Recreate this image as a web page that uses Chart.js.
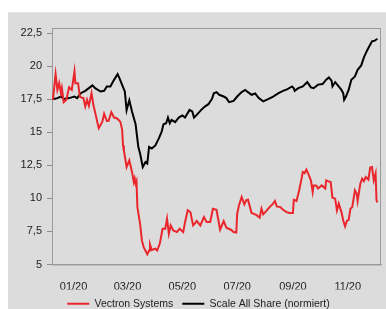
<!DOCTYPE html>
<html>
<head>
<meta charset="utf-8">
<script src="https://cdn.jsdelivr.net/npm/chart.js@4"></script>
<style>
  html, body { margin: 0; padding: 0; background: #fff; overflow: hidden; }
  #panel { position: absolute; left: 8px; top: 12px; right: 0; bottom: 0; background: #dcdcdc; border-top: 1px solid #e6e6e6; }
  #chart { position: absolute; left: 0; top: 0; }
</style>
</head>
<body>
<div id="panel"></div>
<canvas id="chart" width="386" height="309"></canvas>
<script>
// x values are days since 01.01.2020
var vectronDays = [-23,-20,-18,-16,-14,-13,-11,-8,-5,-2,1,2,5,7,10,11,13,15,17,20,22,25,28,32,34,37,39,42,45,48,52,54,55,56,59,62,65,67,68,69,70,71,74,76,78,82,84,85,87,91,93,96,99,102,104,106,108,111,115,118,122,124,127,130,133,135,137,141,145,148,152,155,159,163,167,170,175,178,181,182,184,187,190,192,194,198,202,204,207,209,211,215,218,222,224,226,230,233,237,240,244,245,248,251,254,255,257,259,261,264,266,267,270,272,276,280,281,283,286,288,291,293,295,298,300,302,304,306,308,310,313,315,316,319,321,323,325,328,330,332,334,336,337,338];
var vectronValues = [17.45,19.39,18.2,18.71,17.95,18.33,17.27,17.45,18.4,18.2,19.6,18.71,18.71,17.7,17.58,17.58,16.94,17.45,17.0,17.95,17.07,16.2,15.3,15.8,16.4,15.85,15.86,16.52,16.11,16.06,15.8,15.2,14.0,13.6,12.37,12.88,12.0,11.23,11.5,11.11,11.3,9.34,8.08,6.82,6.31,5.78,6.06,6.52,6.1,6.19,6.06,6.6,7.7,7.7,8.46,7.32,7.95,7.57,7.45,7.7,7.45,8.2,9.1,8.95,7.95,8.1,8.3,7.95,8.59,8.22,8.22,9.22,9.14,7.63,8.28,7.78,7.63,7.45,7.42,8.84,9.47,10.1,9.55,9.85,9.9,8.89,8.79,8.71,8.54,9.22,8.79,9.09,9.34,9.6,9.8,9.39,9.34,9.14,8.96,8.89,8.89,9.9,9.8,10.61,11.62,12.0,11.9,12.17,11.87,11.36,10.48,10.98,10.98,10.75,10.98,10.75,11.36,11.3,11.23,10.05,9.98,9.09,9.6,8.96,8.33,7.88,8.3,8.38,9.22,9.34,10.61,10.35,9.8,11.11,11.49,11.3,11.62,11.42,12.33,12.37,11.36,11.87,9.85,9.7];

var scaleDays = [-23,-18,-14,-11,-5,1,4,8,13,21,24,30,34,37,41,45,49,51,54,57,59,62,65,69,72,74,77,80,82,84,87,91,95,98,100,103,105,107,109,113,117,121,124,129,132,134,137,142,146,150,154,156,159,162,167,170,173,178,182,187,191,194,198,202,206,211,217,222,228,233,238,243,245,246,250,255,260,264,267,272,277,281,284,287,288,291,294,298,300,301,303,306,309,313,316,320,323,326,329,332,335,338];
var scaleValues = [17.5,17.58,17.7,17.52,17.58,17.7,17.58,17.95,18.13,18.54,18.33,18.08,18.13,18.46,18.46,18.96,19.39,19.09,18.58,18.08,16.67,17.42,16.57,15.6,13.9,13.39,12.37,12.75,12.63,13.89,13.77,14.0,14.55,15.05,15.6,15.68,16.11,15.68,15.93,15.76,16.11,16.27,16.11,16.69,16.57,16.11,16.31,16.69,16.94,17.12,17.52,17.95,18.03,17.83,17.7,17.58,17.27,17.37,17.7,18.03,18.2,18.03,17.83,17.93,17.58,17.33,17.52,17.7,17.95,18.13,18.26,18.46,18.33,18.13,18.33,18.46,18.79,18.39,18.33,18.6,18.64,18.97,19.14,18.9,18.46,18.79,18.54,18.2,17.95,17.45,17.7,18.2,18.97,19.22,19.72,20.05,20.66,21.11,21.5,21.87,21.92,22.07];

var xTickDays = [0, 60, 121, 182, 244, 305];
var xTickLabels = ['01/20', '03/20', '05/20', '07/20', '09/20', '11/20'];
var yTickValues = [5, 7.5, 10, 12.5, 15, 17.5, 20, 22.5];

var seriesNames = ['Vectron Systems', 'Scale All Share (normiert)'];

function toPoints(days, values) {
  return days.map(function(d, i){ return {x: d, y: values[i]}; });
}

Chart.defaults.font.family = "'Liberation Sans', Arial, sans-serif";
Chart.defaults.font.size = 11;
Chart.defaults.color = '#222';

var frame = {
  id: 'frame',
  beforeLayout: function(chart){
    var lg = chart.legend;
    if (lg && !lg._patched) {
      var fit = lg.fit;
      lg.fit = function(){ fit.call(this); this.height -= 10; };
      lg._patched = true;
    }
  },
  beforeDatasetsDraw: function(chart){
    var a = chart.chartArea, ctx = chart.ctx;
    ctx.save();
    ctx.strokeStyle = '#9a9a9a';
    ctx.lineWidth = 1;
    ctx.strokeRect(a.left + 0.5, a.top + 0.5, a.right - a.left - 1, a.bottom - a.top);
    ctx.restore();
  }
};

new Chart(document.getElementById('chart'), {
  type: 'line',
  data: {
    datasets: [{
      label: seriesNames[0],
      data: toPoints(vectronDays, vectronValues),
      borderColor: 'rgb(234,38,44)',
      backgroundColor: 'rgb(234,38,44)',
      borderWidth: 2,
      pointRadius: 0,
      tension: 0
    }, {
      label: seriesNames[1],
      data: toPoints(scaleDays, scaleValues),
      borderColor: '#000',
      backgroundColor: '#000',
      borderWidth: 2,
      pointRadius: 0,
      tension: 0
    }]
  },
  options: {
    responsive: false,
    animation: false,
    layout: { padding: { top: 28, right: 5, left: 16, bottom: 0 } },
    scales: {
      x: {
        type: 'linear',
        min: -24,
        max: 342,
        afterBuildTicks: function(s){ s.ticks = xTickDays.map(function(v){ return {value: v}; }); },
        afterFit: function(s){ s.height = 25; },
        ticks: {
          padding: 8,
          maxRotation: 0,
          autoSkip: false,
          callback: function(v){ return xTickLabels[xTickDays.indexOf(v)]; }
        },
        grid: { display: false },
        border: { display: true, color: '#9a9a9a', width: 1 }
      },
      y: {
        min: 5,
        max: 22.88,
        afterBuildTicks: function(s){ s.ticks = yTickValues.map(function(v){ return {value: v}; }); },
        afterFit: function(s){ s.width = 36; },
        ticks: {
          padding: 5,
          callback: function(v){ return String(v).replace('.', ','); }
        },
        grid: { drawOnChartArea: false, drawTicks: true, tickLength: 5, color: '#8c8c8c' },
        border: { display: true, color: '#8c8c8c', width: 1 }
      }
    },
    plugins: {
      legend: {
        position: 'bottom',
        labels: {
          usePointStyle: true,
          pointStyle: 'line',
          pointStyleWidth: 22,
          boxHeight: 10.5,
          padding: 9,
          font: { size: 10.5 },
          color: '#222'
        }
      },
      tooltip: { enabled: false }
    }
  },
  plugins: [frame]
});
</script>
</body>
</html>
